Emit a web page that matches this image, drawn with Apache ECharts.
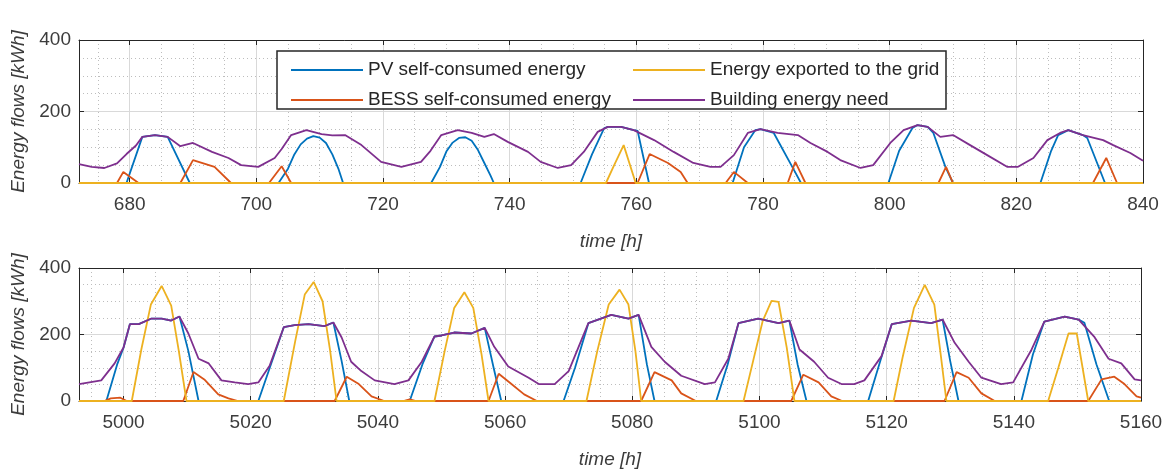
<!DOCTYPE html>
<html>
<head>
<meta charset="utf-8">
<script src="https://cdn.jsdelivr.net/npm/echarts@6/dist/echarts.min.js"></script>
<style>
html,body{margin:0;padding:0;background:#fff;}
#chart{width:1167px;height:470px;}
</style>
</head>
<body>
<div id="chart"></div>
<script>
// ---------- DATA ----------
const seriesNames = ['PV self-consumed energy','BESS self-consumed energy','Energy exported to the grid','Building energy need'];
const topTicks = [680,700,720,740,760,780,800,820,840];
const botTicks = [5000,5020,5040,5060,5080,5100,5120,5140,5160];
const yTicks = [0,200,400];

const topNeed = [[672,53],[674,45],[676,42],[678,55],[679.5,81],[681,105],[682,129],[684,134],[686,129],[688,103],[690,112],[693,87],[695.6,70],[697.6,50],[700.3,45],[702.9,70],[704,95],[705.5,134],[707.9,148],[710.3,137],[712,133],[714,134],[716.6,106],[719.7,59],[722.9,45],[726,59],[727.5,90],[729.2,134],[731.8,148],[734,140],[736,129],[737.5,137],[739.7,115],[742.9,87],[744.9,59],[747.6,42],[749.7,50],[751.7,87],[753.9,143],[755.5,157],[757.6,157],[759.6,148],[762.8,120],[765.9,87],[769,56],[771.7,45],[773.3,45],[775.4,78],[777.6,140],[779.6,151],[782.3,140],[785.5,134],[787.5,112],[790.2,87],[792.2,64],[795.4,42],[797.4,50],[800.1,112],[802.2,148],[804.4,162],[806,157],[808,129],[810,134],[812.7,106],[815.4,78],[818.6,45],[820.2,45],[822.7,70],[824.9,120],[826.9,140],[828.2,148],[830.5,134],[833.7,120],[835.3,106],[838,84],[840,62]];
const topPV = [[672,0],[679.5,0],[682,129],[684,134],[686,129],[689.5,0],[703.5,0],[705,40],[706,80],[707,108],[708,124],[709,131],[710,127],[711,112],[712,80],[713,38],[713.7,0],[727.6,0],[729,45],[730,88],[731,113],[732,126],[733,128],[734,118],[735,92],[736,56],[737,20],[737.5,0],[751.2,0],[753,80],[754.9,153],[755.5,157],[757.6,157],[759.6,148],[760.2,146],[762,0],[775.2,0],[777,100],[778.8,148],[779.6,151],[781.7,140],[784.9,36],[786,0],[799.8,0],[801.5,90],[803.6,154],[804.4,162],[806,157],[806.9,140],[808.8,45],[810,0],[823.8,0],[825.5,90],[826.6,134],[828.2,148],[830.5,134],[831.2,126],[834,0],[840,0]];
const topBESS = [[672,0],[678,0],[679,31],[681.4,0],[688,0],[690,64],[693.4,45],[696,0],[702,0],[704,47],[705.5,0],[760.2,0],[762.1,81],[765,56],[767,31],[768.1,0],[774.1,0],[775.4,31],[777.6,0],[783.9,0],[785.1,59],[786.7,0],[807.7,0],[808.9,45],[810,0],[832.1,0],[834.2,70],[835.9,0],[840,0]];
const topExport = [[672,0],[755.2,0],[756.5,50],[758,106],[759.9,0],[840,0]];

const botNeed = [[4993,51],[4996.5,62],[4998.6,113],[5000,161],[5001,231],[5002.4,231],[5004.4,248],[5006,248],[5007.5,242],[5008.8,254],[5010.2,203],[5011.8,127],[5013.4,113],[5015.4,62],[5017.5,56],[5019.6,51],[5021.2,56],[5023,107],[5025.2,222],[5026.9,228],[5029.1,231],[5031.6,225],[5033,236],[5034.3,191],[5035.8,118],[5037.4,90],[5039.5,62],[5042.6,51],[5044.8,62],[5046.9,118],[5048.9,194],[5050,197],[5052,206],[5054.7,203],[5056.8,220],[5058.3,163],[5060.5,104],[5063.7,70],[5065.3,51],[5067.8,51],[5070,90],[5072,183],[5073.1,234],[5076.7,259],[5079.4,248],[5081,259],[5083,163],[5085.1,118],[5087.7,76],[5091.4,51],[5093,56],[5095.1,127],[5096.7,234],[5099.8,248],[5103,234],[5104.7,242],[5106.3,155],[5108.6,118],[5110.8,70],[5112.9,51],[5114.9,51],[5116.5,62],[5119.2,135],[5120.8,231],[5123.9,242],[5127,234],[5128.8,245],[5130.7,175],[5132.9,118],[5134.9,70],[5138,51],[5139.9,56],[5142.8,155],[5144.8,239],[5148,254],[5150.2,245],[5152.7,192],[5154.9,127],[5156.9,113],[5159,65],[5160,62]];
const botPV = [[4993,0],[4997.3,0],[4999,110],[5000,160],[5001,231],[5002.4,231],[5004.4,248],[5006,248],[5007.5,242],[5008.8,254],[5010.2,150],[5011.8,0],[5021.2,0],[5023,100],[5025.2,222],[5026.9,228],[5029.1,231],[5031.6,225],[5033,236],[5034.3,120],[5035.5,0],[5045,0],[5047,110],[5048.9,194],[5050,197],[5052,206],[5054.7,203],[5056.8,220],[5058.2,100],[5059.4,0],[5069.2,0],[5071,100],[5073.1,234],[5076.7,259],[5079.4,248],[5081,259],[5082.3,110],[5083.5,0],[5093.2,0],[5095,110],[5096.7,234],[5099.8,248],[5103,234],[5104.7,242],[5106,110],[5107.4,0],[5117.1,0],[5119,120],[5120.8,231],[5123.9,242],[5127,234],[5128.8,245],[5130,120],[5131.3,0],[5141.2,0],[5143,140],[5144.8,239],[5148,254],[5150.2,245],[5151.1,235],[5153,110],[5155,0],[5160,0]];
const botExport = [[4993,0],[5001.3,0],[5002.8,155],[5004.3,290],[5006,346],[5007.5,287],[5008.7,150],[5009.9,0],[5025.2,0],[5027,180],[5028.5,320],[5029.9,358],[5031.3,300],[5032.5,150],[5033.5,0],[5048.9,0],[5050.5,150],[5052,280],[5053.6,327],[5055,280],[5056.3,140],[5057.4,0],[5072.8,0],[5074.5,150],[5076.3,290],[5078,335],[5079.4,290],[5080.5,150],[5081.4,0],[5097.5,0],[5099,120],[5100.5,240],[5101.9,301],[5103,298],[5104.3,160],[5105.5,0],[5121.1,0],[5122.5,130],[5124.3,280],[5126,349],[5127.5,290],[5128.5,140],[5129.4,0],[5145.4,0],[5147,100],[5148.6,203],[5149.9,203],[5151.7,0],[5160,0]];
const botBESS = [[4993,0],[4997,0],[4998,8],[4999.5,10],[5000.5,0],[5009.4,0],[5011,87],[5012.7,65],[5014.9,20],[5016.5,8],[5018,0],[5033.2,0],[5035.1,73],[5037,51],[5039,14],[5041,0],[5044,0],[5045,5],[5046,0],[5057.4,0],[5059,82],[5061,51],[5063,20],[5065,0],[5081.4,0],[5083.5,87],[5086.2,62],[5087.7,23],[5090,0],[5105,0],[5106.9,79],[5109.3,56],[5111.3,14],[5113,0],[5129.1,0],[5131,87],[5132.9,70],[5134.9,23],[5137,0],[5151.7,0],[5153.8,65],[5155.8,73],[5157.4,51],[5159.3,14],[5160,10]];

// ---------- CHART ----------
const FONT = 'Liberation Sans';
const TXT = '#3c3c3c';
const AX = '#262626';
const colors = ['#0072BD','#D95319','#EDB120','#7E2F8E'];

function minorVals(lo, hi, step, majors){
  const out=[]; for(let v=Math.ceil(lo/step)*step; v<=hi; v+=step){ if(majors.indexOf(v)<0) out.push(v);} return out;
}

function xAxesFor(gi, min, max, ticks){
  return [
    { gridIndex:gi, type:'value', min:min, max:max, position:'bottom',
      name:'time [h]', nameLocation:'middle', nameGap:49,
      nameTextStyle:{fontFamily:FONT, fontSize:19, fontStyle:'italic', color:TXT},
      axisLine:{show:true, onZero:false, lineStyle:{color:AX, width:1}},
      axisTick:{show:true, inside:true, length:5, customValues:ticks, lineStyle:{color:AX}},
      axisLabel:{show:true, customValues:ticks, margin:12, fontFamily:FONT, fontSize:19, color:TXT,
        formatter:function(v){return String(v);}},
      splitLine:{show:true, lineStyle:{color:'#d9d9d9', width:1}} },
    { gridIndex:gi, type:'value', min:min, max:max, position:'top',
      axisLine:{show:true, onZero:false, lineStyle:{color:AX, width:1}},
      axisTick:{show:true, inside:true, length:5, customValues:ticks, lineStyle:{color:AX}},
      axisLabel:{show:false}, splitLine:{show:false} },
    { gridIndex:gi, type:'value', min:min, max:max, position:'bottom',
      axisLine:{show:false}, axisLabel:{show:false},
      axisTick:{show:false, customValues:minorVals(min,max,5,ticks)},
      splitLine:{show:true, lineStyle:{color:'#bdbdbd', type:[1,3], width:1}} }
  ];
}
function yAxesFor(gi){
  return [
    { gridIndex:gi, type:'value', min:0, max:400, interval:200, position:'left',
      name:'Energy flows [kWh]', nameLocation:'middle', nameGap:46, nameRotate:90,
      nameTextStyle:{fontFamily:FONT, fontSize:19, fontStyle:'italic', color:TXT},
      axisLine:{show:true, lineStyle:{color:AX, width:1}},
      axisTick:{show:true, inside:true, length:5, lineStyle:{color:AX}},
      axisLabel:{margin:8, fontFamily:FONT, fontSize:19, color:TXT},
      splitLine:{show:true, lineStyle:{color:'#d9d9d9', width:1}},
      minorTick:{show:false, splitNumber:4},
      minorSplitLine:{show:true, lineStyle:{color:'#bdbdbd', type:[1,3], width:1}} },
    { gridIndex:gi, type:'value', min:0, max:400, interval:200, position:'right',
      axisLine:{show:true, lineStyle:{color:AX, width:1}},
      axisTick:{show:true, inside:true, length:5, lineStyle:{color:AX}},
      axisLabel:{show:false}, splitLine:{show:false} }
  ];
}
function mk(name, data, xi, yi, ci){
  return { name:name, type:'line', data:data, xAxisIndex:xi, yAxisIndex:yi,
    symbol:'none', showSymbol:false, smooth:false, animation:false,
    lineStyle:{color:colors[ci], width:1.8}, itemStyle:{color:colors[ci]}, z:2 };
}

const legendCommon = { orient:'vertical', top:55, itemWidth:72, itemHeight:14, itemGap:10,
  itemStyle:{opacity:0},
  textStyle:{fontFamily:FONT, fontSize:19, color:'#262626', lineHeight:20}, selectedMode:false };

const option = {
  animation:false,
  backgroundColor:'#fff',
  grid:[
    {left:79, right:24, top:40, height:143},
    {left:79, right:26, top:268, height:142}
  ],
  xAxis: xAxesFor(0, 672, 840, topTicks).concat(xAxesFor(1, 4993, 5160, botTicks)),
  yAxis: yAxesFor(0).concat(yAxesFor(1)),
  legend:[
    Object.assign({}, legendCommon, {left:285, data:[seriesNames[0], seriesNames[1]]}),
    Object.assign({}, legendCommon, {left:627, data:[seriesNames[2], seriesNames[3]]})
  ],
  graphic:[
    { type:'rect', z:3, shape:{x:277, y:51, width:669, height:58},
      style:{fill:'#fff', stroke:'#262626', lineWidth:1.5} }
  ],
  series:[
    mk(seriesNames[0], topPV, 0, 0, 0),
    mk(seriesNames[1], topBESS, 0, 0, 1),
    mk(seriesNames[2], topExport, 0, 0, 2),
    mk(seriesNames[3], topNeed, 0, 0, 3),
    mk(seriesNames[0], botPV, 3, 2, 0),
    mk(seriesNames[1], botBESS, 3, 2, 1),
    mk(seriesNames[2], botExport, 3, 2, 2),
    mk(seriesNames[3], botNeed, 3, 2, 3)
  ]
};
const chart = echarts.init(document.getElementById('chart'), null, {renderer:'canvas'});
chart.setOption(option);
</script>
</body>
</html>
